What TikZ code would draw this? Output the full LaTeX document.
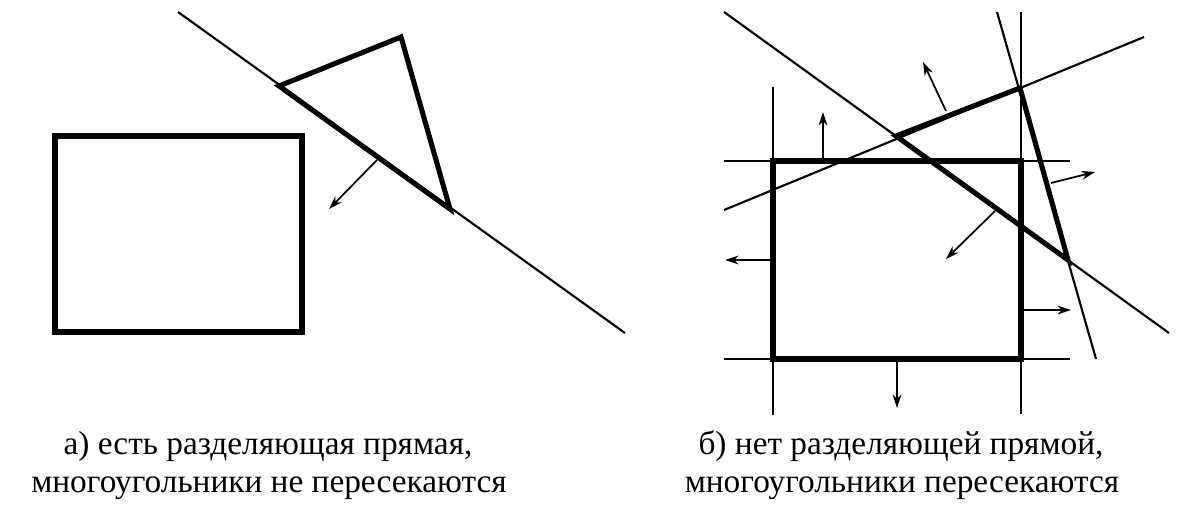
\documentclass[tikz,border=0pt]{standalone}
\usepackage{fontspec}
\setmainfont{Liberation Serif}
\usetikzlibrary{arrows.meta}
\begin{document}
\begin{tikzpicture}[x=0.75pt,y=-0.75pt,
  thinline/.style={line width=1.6pt},
  thickline/.style={line width=3.8pt,line join=miter},
  normarrow/.style={line width=1.3pt,-{Stealth[length=10pt,width=6.5pt,inset=3pt]}},
  caption/.style={anchor=base,inner sep=0pt,font=\fontsize{25}{30}\selectfont}]
\useasboundingbox (0,0) rectangle (1177,512);
% ---------- panel a ----------
\coordinate (aL1) at (178,12);
\coordinate (aL2) at (625,333);
\draw[thinline] (aL1) -- (aL2);
\draw[thickline] (55,136) rectangle (302,332);
\coordinate (aP) at (279,86);
\coordinate (aQ) at (401,37);
\coordinate (aR) at (450,209);
\draw[thickline] (aP) -- (aQ) -- (aR) -- cycle;
\coordinate (aN1) at (377,160);
\coordinate (aN2) at (329,209);
\draw[normarrow] (aN1) -- (aN2);
% ---------- panel b ----------
\coordinate (h1a) at (724,161); \coordinate (h1b) at (1070,161);
\coordinate (h2a) at (724,359); \coordinate (h2b) at (1070,359);
\coordinate (v1a) at (773,87);  \coordinate (v1b) at (773,415);
\coordinate (v2a) at (1021,12); \coordinate (v2b) at (1021,414);
\draw[thinline] (h1a) -- (h1b) (h2a) -- (h2b) (v1a) -- (v1b) (v2a) -- (v2b);
\coordinate (l1a) at (724,12);  \coordinate (l1b) at (1169,333);
\coordinate (l2a) at (724,210); \coordinate (l2b) at (1144,37);
\coordinate (l3a) at (997,12);  \coordinate (l3b) at (1096,359);
\draw[thinline] (l1a) -- (l1b) (l2a) -- (l2b) (l3a) -- (l3b);
\draw[thickline] (773,161) rectangle (1021,359);
\coordinate (bA) at (896,136);
\coordinate (bB) at (1020,88);
\coordinate (bC) at (1068,260);
\draw[thickline] (bA) -- (bB) -- (bC) -- cycle;
% normals
\coordinate (n1a) at (823,161);  \coordinate (n1b) at (823,112);
\coordinate (n2a) at (773,260);  \coordinate (n2b) at (725,260);
\coordinate (n3a) at (897,359);  \coordinate (n3b) at (897,408);
\coordinate (n4a) at (1021,310); \coordinate (n4b) at (1071,310);
\coordinate (n5a) at (946,111);  \coordinate (n5b) at (923,62);
\coordinate (n6a) at (1051,183); \coordinate (n6b) at (1095,172);
\coordinate (n7a) at (995,211);  \coordinate (n7b) at (946,259);
\foreach \i in {1,...,7} \draw[normarrow] (n\i a) -- (n\i b);
% ---------- captions ----------
\node[caption] (capa1) at (268,454) {а) есть разделяющая прямая,};
\node[caption] (capa2) at (269,492) {многоугольники не пересекаются};
\node[caption] (capb1) at (901,454) {б) нет разделяющей прямой,};
\node[caption] (capb2) at (902,492) {многоугольники пересекаются};
\end{tikzpicture}
\end{document}
